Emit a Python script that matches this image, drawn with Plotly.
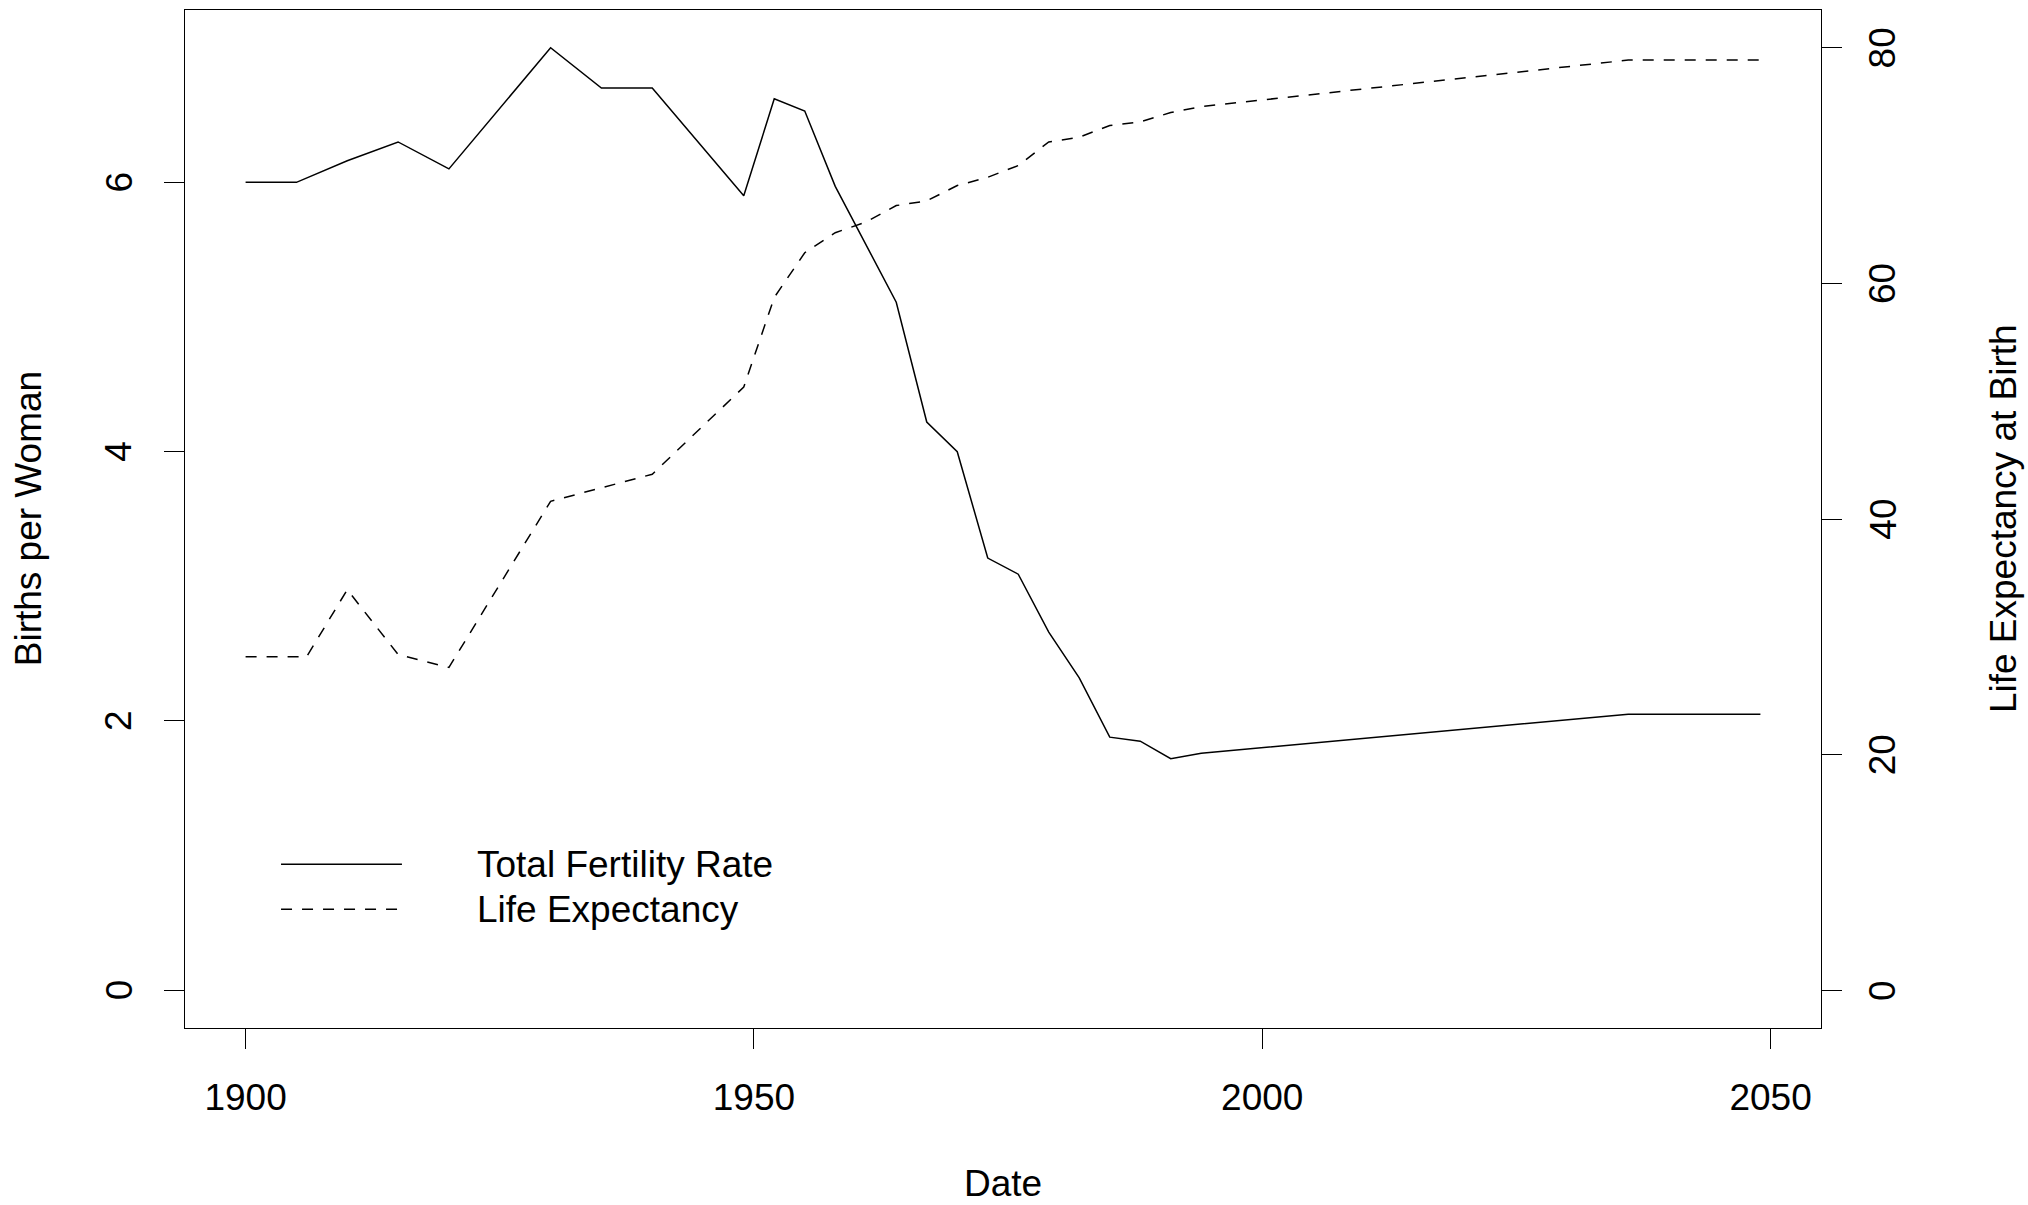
import plotly.graph_objects as go

# ---- data ----
tfr_years = [1900, 1905, 1910, 1915, 1920, 1930, 1935, 1940, 1949, 1952, 1955, 1958,
             1964, 1967, 1970, 1973, 1976, 1979, 1982, 1985, 1988, 1991, 1994, 2036, 2049]
tfr_values = [6.0, 6.0, 6.16, 6.3, 6.1, 7.0, 6.7, 6.7, 5.9, 6.62, 6.53, 5.97,
              5.11, 4.22, 4.0, 3.21, 3.09, 2.66, 2.32, 1.88, 1.85, 1.72, 1.76, 2.05, 2.05]

life_years = [1900, 1906, 1910, 1915, 1920, 1930, 1940, 1949, 1952, 1955, 1958, 1961,
              1964, 1967, 1970, 1973, 1976, 1979, 1982, 1985, 1988, 1991, 1994, 2036, 2049]
life_values = [28.3, 28.3, 34.0, 28.5, 27.4, 41.5, 43.8, 51.2, 58.8, 62.6, 64.3, 65.2,
               66.6, 67.0, 68.3, 69.0, 70.0, 72.0, 72.4, 73.4, 73.7, 74.5, 75.0, 78.95, 78.95]

x_ticks = [1900, 1950, 2000, 2050]
left_ticks = [0, 2, 4, 6]
right_ticks = [0, 20, 40, 60, 80]

legend_labels = ["Total Fertility Rate", "Life Expectancy"]
x_title = "Date"
left_title = "Births per Woman"
right_title = "Life Expectancy at Birth"

FONT = "Liberation Sans, Arial, Helvetica, sans-serif"
FS = 37
DASH = "11px,10px"
LW = 1.5
TXT = dict(family=FONT, size=FS, color="black")

fig = go.Figure()
fig.add_trace(go.Scatter(x=tfr_years, y=tfr_values, mode="lines",
                         line=dict(color="black", width=LW), showlegend=False,
                         name=legend_labels[0], yaxis="y"))
fig.add_trace(go.Scatter(x=life_years, y=life_values, mode="lines",
                         line=dict(color="black", width=LW, dash=DASH), showlegend=False,
                         name=legend_labels[1], yaxis="y2"))

axis_common = dict(showgrid=False, zeroline=False, ticks="outside", ticklen=20,
                   tickwidth=1.3, tickcolor="black", linecolor="black", linewidth=1.3,
                   tickfont=TXT)

fig.update_layout(
    width=2028, height=1205,
    margin=dict(l=185, r=207, t=10, b=177),
    paper_bgcolor="white", plot_bgcolor="white",
    font=TXT,
    xaxis=dict(range=[1894.04, 2054.96], tickvals=x_ticks, showline=True, mirror=True,
               ticklabelstandoff=16, **axis_common),
    yaxis=dict(range=[-0.28, 7.28], tickvals=left_ticks, showticklabels=False,
               showline=True, mirror=True, **axis_common),
    yaxis2=dict(range=[-3.2, 83.2], tickvals=right_ticks, showticklabels=False,
                overlaying="y", side="right", showline=False, **axis_common),
)

# rotated y tick labels (R style, parallel to the axis), centred on their ticks
for v in left_ticks:
    fig.add_annotation(text=str(v), xref="paper", yref="y", x=-0.0403, y=v,
                       xanchor="center", yanchor="middle", textangle=-90,
                       showarrow=False, font=TXT)
for v in right_ticks:
    fig.add_annotation(text=str(v), xref="paper", yref="y2", x=1.0377, y=v,
                       xanchor="center", yanchor="middle", textangle=-90,
                       showarrow=False, font=TXT)

# legend drawn like R's legend(): long line samples and labels
leg_rows = [0.1608, 0.1166]
fig.add_shape(type="line", xref="paper", yref="paper", x0=0.0587, x1=0.1326,
              y0=leg_rows[0], y1=leg_rows[0], line=dict(color="black", width=LW))
fig.add_shape(type="line", xref="paper", yref="paper", x0=0.0587, x1=0.1326,
              y0=leg_rows[1], y1=leg_rows[1], line=dict(color="black", width=LW, dash=DASH))
for lab, yy in zip(legend_labels, leg_rows):
    fig.add_annotation(text=lab, xref="paper", yref="paper", x=0.1773, y=yy,
                       xanchor="left", yanchor="middle", showarrow=False, font=TXT)

# axis titles
fig.add_annotation(text=x_title, xref="paper", yref="paper", x=0.5, y=-0.1528,
                   xanchor="center", yanchor="middle", showarrow=False, font=TXT)
fig.add_annotation(text=left_title, xref="paper", yref="paper", x=-0.0958, y=0.5,
                   xanchor="center", yanchor="middle", textangle=-90, showarrow=False,
                   font=TXT)
fig.add_annotation(text=right_title, xref="paper", yref="paper", x=1.1113, y=0.5,
                   xanchor="center", yanchor="middle", textangle=-90, showarrow=False,
                   font=TXT)

fig.write_html("out.html")
